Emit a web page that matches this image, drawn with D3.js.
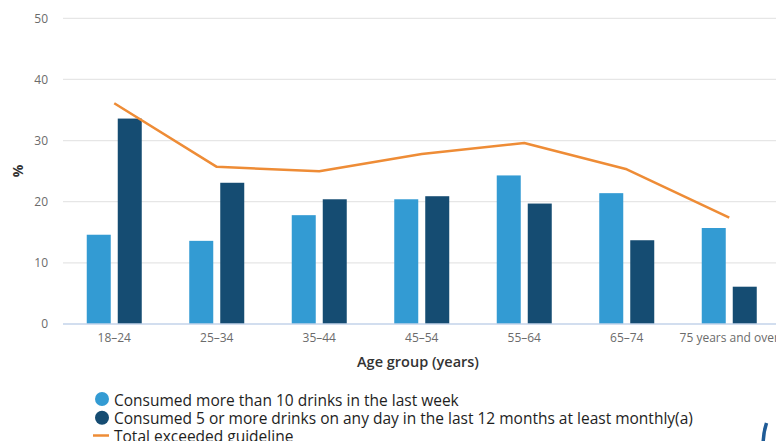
<!DOCTYPE html>
<html>
<head>
<meta charset="utf-8">
<script src="https://cdn.jsdelivr.net/npm/d3@7"></script>
<style>
  html, body { margin: 0; padding: 0; background: #fff; }
  svg { display: block; font-family: "Open Sans", sans-serif; }
</style>
</head>
<body>
<svg id="chart" width="776" height="441"></svg>
<script>
// Alcohol risk by age group (%)
const categories = ["18–24", "25–34", "35–44", "45–54", "55–64", "65–74", "75 years and over"];
const weeklyOver10 = [14.6, 13.6, 17.8, 20.4, 24.3, 21.4, 15.7];
const monthly5Plus = [33.6, 23.1, 20.4, 20.9, 19.7, 13.7, 6.1];
const totalExceeded = [36.1, 25.7, 25.0, 27.8, 29.6, 25.3, 17.4];
const yTicks = [0, 10, 20, 30, 40, 50];
const seriesNames = [
  "Consumed more than 10 drinks in the last week",
  "Consumed 5 or more drinks on any day in the last 12 months at least monthly(a)",
  "Total exceeded guideline"
];

const colors = { light: "#339bd3", dark: "#154c72", line: "#ee8c36" };

const svg = d3.select("#chart");

const x = d3.scaleBand().domain(categories).range([63, 780.5]).paddingInner(0).paddingOuter(0);
const y = d3.scaleLinear().domain([0, 50]).range([324, 18.3]);

const inner = d3.scaleBand()
  .domain(["weekly", "monthly"])
  .range([x.bandwidth() / 2 - 27.5, x.bandwidth() / 2 + 27.5])
  .paddingInner(7 / 31)
  .paddingOuter(0);

// gridlines
svg.append("g")
  .selectAll("line")
  .data(yTicks.filter(d => d > 0))
  .join("line")
  .attr("x1", 63).attr("x2", 776)
  .attr("y1", d => y(d)).attr("y2", d => y(d))
  .attr("stroke", "#e6e6e6").attr("stroke-width", 1.3);

// y tick labels
svg.append("g")
  .selectAll("text")
  .data(yTicks)
  .join("text")
  .attr("x", 48).attr("y", d => y(d))
  .attr("dy", "0.35em")
  .attr("text-anchor", "end")
  .attr("font-size", 12)
  .attr("fill", "#6b6b6b")
  .text(d => d);

// y axis title
svg.append("text")
  .attr("transform", "translate(23,171) rotate(-90)")
  .attr("text-anchor", "middle")
  .attr("font-size", 14)
  .attr("font-weight", 700)
  .attr("fill", "#333")
  .text("%");

// bars
const groups = svg.append("g")
  .selectAll("g")
  .data(categories.map((c, i) => ({ c, weekly: weeklyOver10[i], monthly: monthly5Plus[i] })))
  .join("g")
  .attr("transform", d => `translate(${x(d.c)},0)`);

groups.append("rect")
  .attr("x", inner("weekly"))
  .attr("width", inner.bandwidth())
  .attr("y", d => y(d.weekly))
  .attr("height", d => y(0) - y(d.weekly))
  .attr("fill", colors.light);

groups.append("rect")
  .attr("x", inner("monthly"))
  .attr("width", inner.bandwidth())
  .attr("y", d => y(d.monthly))
  .attr("height", d => y(0) - y(d.monthly))
  .attr("fill", colors.dark);

// baseline
svg.append("line")
  .attr("x1", 63).attr("x2", 776)
  .attr("y1", y(0)).attr("y2", y(0))
  .attr("stroke", "#c3d3ea").attr("stroke-width", 1.3);

// total line
const line = d3.line()
  .x((d, i) => x(categories[i]) + x.bandwidth() / 2)
  .y(d => y(d));

svg.append("path")
  .datum(totalExceeded)
  .attr("d", line)
  .attr("fill", "none")
  .attr("stroke", colors.line)
  .attr("stroke-width", 2.5)
  .attr("stroke-linejoin", "round");

// x tick labels
svg.append("g")
  .selectAll("text")
  .data(categories)
  .join("text")
  .attr("x", d => x(d) + x.bandwidth() / 2)
  .attr("y", 342)
  .attr("text-anchor", "middle")
  .attr("font-size", 12)
  .attr("fill", "#6b6b6b")
  .text(d => d);

// x axis title
svg.append("text")
  .attr("x", 418).attr("y", 367)
  .attr("text-anchor", "middle")
  .attr("font-size", 14.5)
  .attr("font-weight", 600)
  .attr("fill", "#333")
  .text("Age group (years)");

// legend
const legend = svg.append("g");
legend.append("circle").attr("cx", 102).attr("cy", 399).attr("r", 7).attr("fill", colors.light);
legend.append("circle").attr("cx", 102).attr("cy", 417.7).attr("r", 7).attr("fill", colors.dark);
legend.append("line")
  .attr("x1", 93).attr("x2", 109).attr("y1", 435.5).attr("y2", 435.5)
  .attr("stroke", colors.line).attr("stroke-width", 2.5);

legend.selectAll("text")
  .data(seriesNames)
  .join("text")
  .attr("x", 114)
  .attr("y", (d, i) => [405.5, 423.5, 442][i])
  .attr("font-size", 15.5)
  .attr("fill", "#1e1e1e")
  .text(d => d);

// edge of a badge at the lower right corner
svg.append("path")
  .attr("d", "M766.5,423 Q763.8,431 763.2,441")
  .attr("fill", "none")
  .attr("stroke", "#1f5b96")
  .attr("stroke-width", 3.5);
</script>
</body>
</html>
